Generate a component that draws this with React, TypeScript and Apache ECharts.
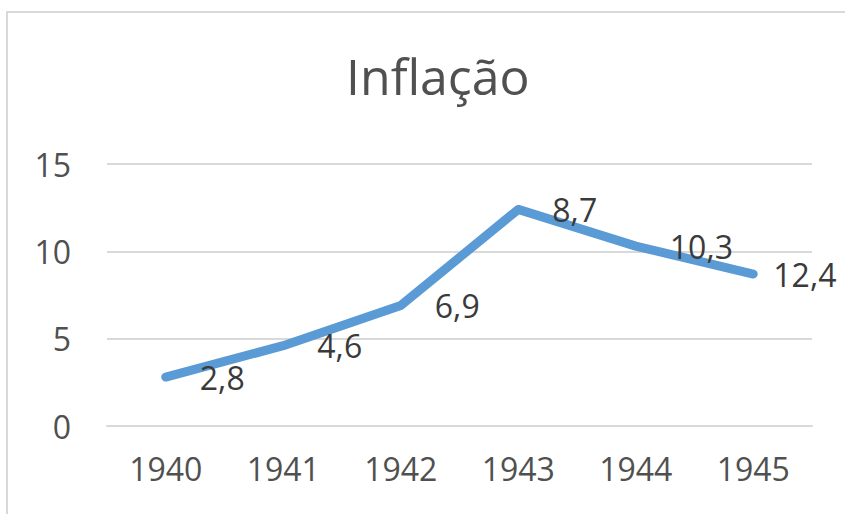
import React, { useEffect, useRef } from "react";
import * as echarts from "echarts";

const years = ["1940", "1941", "1942", "1943", "1944", "1945"];
const inflation = [2.8, 4.6, 6.9, 12.4, 10.3, 8.7];
const pointLabels = ["2,8", "4,6", "6,9", "8,7", "10,3", "12,4"];
const yTicks = { min: 0, max: 15, interval: 5 };

const FONT = "Open Sans";

export default function App() {
  const ref = useRef<HTMLDivElement>(null);
  useEffect(() => {
    if (!ref.current) return;
    const chart = echarts.init(ref.current, null, { renderer: "svg" });
    const lastIdx = inflation.length - 1;
    chart.setOption({
      animation: false,
      backgroundColor: "#ffffff",
      graphic: [
        {
          type: "rect",
          shape: { x: 7, y: 12, width: 900, height: 600 },
          style: { fill: "none", stroke: "#d9d9d9", lineWidth: 2 },
          silent: true,
        },
      ],
      title: {
        text: "Inflação",
        left: 341,
        top: 46,
        textStyle: {
          fontFamily: FONT,
          fontSize: 50,
          fontWeight: "normal",
          color: "#505050",
        },
      },
      grid: { left: 107, right: 33, top: 164, bottom: 88, containLabel: false },
      xAxis: {
        type: "category",
        data: years,
        boundaryGap: true,
        axisLine: { show: true, lineStyle: { color: "#d9d9d9", width: 2 } },
        axisTick: { show: false },
        axisLabel: {
          fontFamily: FONT,
          fontSize: 32,
          color: "#505050",
          margin: 26,
        },
      },
      yAxis: {
        type: "value",
        min: yTicks.min,
        max: yTicks.max,
        interval: yTicks.interval,
        axisLine: { show: false },
        axisTick: { show: false },
        splitLine: { lineStyle: { color: "#d9d9d9", width: 2 } },
        axisLabel: {
          fontFamily: FONT,
          fontSize: 32,
          color: "#505050",
          margin: 36,
        },
      },
      series: [
        {
          type: "line",
          data: inflation.map((v, i) =>
            i === lastIdx ? { value: v, label: { distance: 20 } } : v
          ),
          showSymbol: true,
          symbol: "circle",
          symbolSize: 0.1,
          lineStyle: { color: "#5B9BD5", width: 9, cap: "round", join: "round" },
          itemStyle: { color: "#5B9BD5" },
          label: {
            show: true,
            position: "right",
            distance: 34,
            fontFamily: FONT,
            fontSize: 32,
            color: "#3a3a3a",
            formatter: (p: any) => pointLabels[p.dataIndex],
          },
        },
      ],
    });
    return () => chart.dispose();
  }, []);
  return (
    <div
      ref={ref}
      style={{ position: "fixed", left: 0, top: 0, width: 845, height: 514 }}
    />
  );
}
